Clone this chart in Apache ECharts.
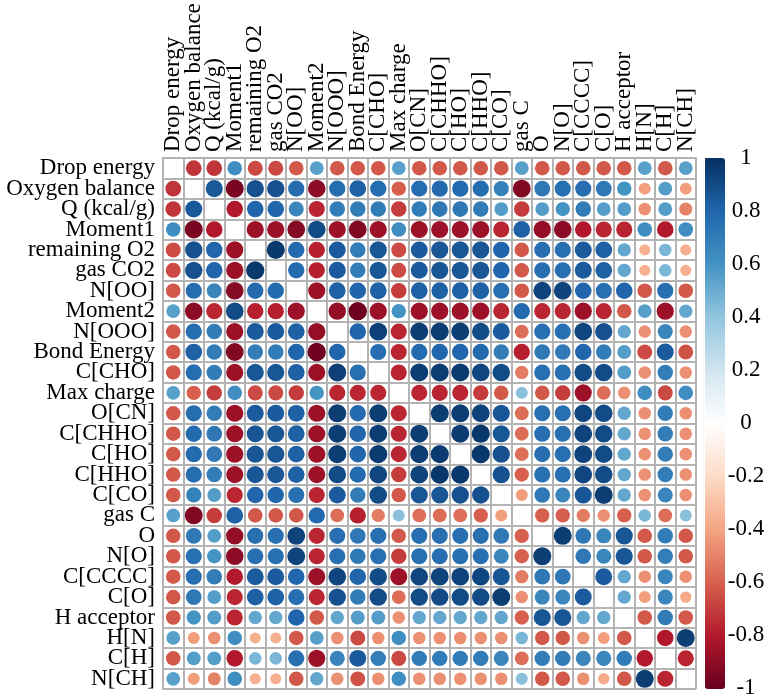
<!DOCTYPE html>
<html><head><meta charset="utf-8">
<script src="https://cdn.jsdelivr.net/npm/echarts@6/dist/echarts.min.js"></script>
<style>html,body{margin:0;padding:0;background:#fff}#c{width:769px;height:699px}</style>
</head><body><div id="c"></div>
<script>
const names = ['Drop energy','Oxygen balance','Q (kcal/g)','Moment1','remaining O2','gas CO2','N[OO]','Moment2','N[OOO]','Bond Energy','C[CHO]','Max charge','O[CN]','C[CHHO]','C[HO]','C[HHO]','C[CO]','gas C','O','N[O]','C[CCCC]','C[O]','H acceptor','H[N]','C[H]','N[CH]'];
// rows of the correlation matrix (null = diagonal, left blank)
const rDropEnergy  = [null,-0.72,-0.72,0.62,-0.66,-0.66,-0.62,0.55,-0.62,-0.62,-0.62,0.55,-0.62,-0.62,-0.62,-0.62,-0.62,0.55,-0.62,-0.62,-0.62,-0.62,-0.62,0.55,-0.62,0.55];
const rOxygen      = [-0.72,null,0.85,-0.95,0.88,0.88,0.77,-0.9,0.77,0.82,0.77,-0.6,0.77,0.78,0.78,0.77,0.68,-0.93,0.72,0.76,0.76,0.72,0.6,-0.42,0.56,-0.42];
const rQ           = [-0.72,0.85,null,-0.8,0.8,0.8,0.66,-0.76,0.7,0.7,0.7,-0.7,0.7,0.72,0.72,0.7,0.56,-0.7,0.56,0.6,0.7,0.56,0.56,-0.46,0.56,-0.5];
const rMoment1     = [0.62,-0.95,-0.8,null,-0.86,-0.86,-0.92,0.9,-0.86,-0.93,-0.86,0.62,-0.86,-0.86,-0.86,-0.86,-0.76,0.82,-0.88,-0.9,-0.8,-0.76,-0.76,0.62,-0.8,0.62];
const rRemO2       = [-0.66,0.88,0.8,-0.86,null,0.97,0.78,-0.78,0.84,0.7,0.86,-0.66,0.84,0.86,0.86,0.86,0.8,-0.62,0.76,0.76,0.84,0.82,0.52,-0.36,0.46,-0.36];
const rGasCO2      = [-0.66,0.88,0.8,-0.86,0.97,null,0.78,-0.78,0.84,0.7,0.86,-0.66,0.84,0.86,0.86,0.86,0.8,-0.62,0.76,0.76,0.84,0.82,0.52,-0.36,0.46,-0.36];
const rNOO         = [-0.62,0.77,0.66,-0.92,0.78,0.78,null,-0.86,0.82,0.8,0.82,-0.7,0.82,0.82,0.82,0.82,0.76,-0.62,0.93,0.93,0.8,0.76,0.8,-0.62,0.76,-0.62];
const rMoment2     = [0.55,-0.9,-0.76,0.9,-0.78,-0.78,-0.86,null,-0.88,-0.98,-0.86,0.6,-0.86,-0.86,-0.86,-0.86,-0.76,0.78,-0.76,-0.76,-0.86,-0.76,-0.62,0.55,-0.86,0.52];
const rNOOO        = [-0.62,0.77,0.7,-0.86,0.84,0.84,0.82,-0.88,null,0.8,0.94,-0.76,0.95,0.95,0.95,0.9,0.84,-0.56,0.76,0.76,0.92,0.88,0.52,-0.46,0.66,-0.46];
const rBond        = [-0.62,0.82,0.7,-0.93,0.7,0.7,0.8,-0.98,0.8,null,0.76,-0.76,0.78,0.8,0.8,0.78,0.7,-0.78,0.72,0.72,0.8,0.7,0.56,-0.66,0.84,-0.64];
const rCCHO        = [-0.62,0.77,0.7,-0.86,0.86,0.86,0.82,-0.86,0.94,0.76,null,-0.76,0.95,0.95,0.96,0.92,0.9,-0.52,0.76,0.76,0.9,0.9,0.56,-0.46,0.7,-0.46];
const rMaxCharge   = [0.55,-0.6,-0.7,0.62,-0.66,-0.66,-0.7,0.6,-0.76,-0.76,-0.76,null,-0.76,-0.76,-0.76,-0.7,-0.62,0.42,-0.62,-0.7,-0.86,-0.56,-0.46,0.62,-0.66,0.62];
const rOCN         = [-0.62,0.77,0.7,-0.86,0.84,0.84,0.82,-0.86,0.95,0.78,0.95,-0.76,null,0.95,0.95,0.93,0.86,-0.56,0.76,0.76,0.92,0.9,0.52,-0.46,0.7,-0.46];
const rCCHHO       = [-0.62,0.78,0.72,-0.86,0.86,0.86,0.82,-0.86,0.95,0.8,0.95,-0.76,0.95,null,0.96,0.97,0.86,-0.56,0.76,0.76,0.93,0.9,0.52,-0.46,0.7,-0.46];
const rCHO         = [-0.62,0.78,0.72,-0.86,0.86,0.86,0.82,-0.86,0.95,0.8,0.96,-0.76,0.95,0.96,null,0.97,0.88,-0.56,0.76,0.76,0.93,0.9,0.52,-0.46,0.7,-0.46];
const rCHHO        = [-0.62,0.77,0.7,-0.86,0.86,0.86,0.82,-0.86,0.9,0.78,0.92,-0.7,0.93,0.97,0.97,null,0.88,-0.6,0.76,0.76,0.92,0.9,0.52,-0.46,0.7,-0.46];
const rCCO         = [-0.62,0.68,0.56,-0.76,0.8,0.8,0.76,-0.76,0.84,0.7,0.9,-0.62,0.86,0.86,0.88,0.88,null,-0.42,0.72,0.66,0.86,0.95,0.52,-0.46,0.66,-0.46];
const rGasC        = [0.55,-0.93,-0.7,0.82,-0.62,-0.62,-0.62,0.78,-0.56,-0.78,-0.52,0.42,-0.56,-0.56,-0.56,-0.6,-0.42,null,-0.6,-0.6,-0.52,-0.46,-0.6,0.46,-0.56,0.42];
const rO           = [-0.62,0.72,0.56,-0.88,0.76,0.76,0.93,-0.76,0.76,0.72,0.76,-0.62,0.76,0.76,0.76,0.76,0.72,-0.6,null,0.95,0.72,0.66,0.86,-0.62,0.7,-0.62];
const rNO          = [-0.62,0.76,0.6,-0.9,0.76,0.76,0.93,-0.76,0.76,0.72,0.76,-0.7,0.76,0.76,0.76,0.76,0.66,-0.6,0.95,null,0.72,0.66,0.86,-0.62,0.7,-0.62];
const rCCCCC       = [-0.62,0.76,0.7,-0.8,0.84,0.84,0.8,-0.86,0.92,0.8,0.9,-0.86,0.92,0.93,0.93,0.92,0.86,-0.52,0.72,0.72,null,0.84,0.52,-0.46,0.66,-0.46];
const rCO          = [-0.62,0.72,0.56,-0.76,0.82,0.82,0.76,-0.76,0.88,0.7,0.9,-0.56,0.9,0.9,0.9,0.9,0.95,-0.46,0.66,0.66,0.84,null,0.52,-0.42,0.66,-0.38];
const rHAcc        = [-0.62,0.6,0.56,-0.76,0.52,0.52,0.8,-0.62,0.52,0.56,0.56,-0.46,0.52,0.52,0.52,0.52,0.52,-0.6,0.86,0.86,0.52,0.52,null,-0.62,0.7,-0.62];
const rHN          = [0.55,-0.42,-0.46,0.62,-0.36,-0.36,-0.62,0.55,-0.46,-0.66,-0.46,0.62,-0.46,-0.46,-0.46,-0.46,-0.46,0.46,-0.62,-0.62,-0.46,-0.42,-0.62,null,-0.8,0.95];
const rCH          = [-0.62,0.56,0.56,-0.8,0.46,0.46,0.76,-0.86,0.66,0.84,0.7,-0.66,0.7,0.7,0.7,0.7,0.66,-0.56,0.7,0.7,0.66,0.66,0.7,-0.8,null,-0.76];
const rNCH         = [0.55,-0.42,-0.5,0.62,-0.36,-0.36,-0.62,0.52,-0.46,-0.64,-0.46,0.62,-0.46,-0.46,-0.46,-0.46,-0.46,0.42,-0.62,-0.62,-0.46,-0.38,-0.62,0.95,-0.76,null];
const rows = [rDropEnergy,rOxygen,rQ,rMoment1,rRemO2,rGasCO2,rNOO,rMoment2,rNOOO,rBond,rCCHO,rMaxCharge,rOCN,rCCHHO,rCHO,rCHHO,rCCO,rGasC,rO,rNO,rCCCCC,rCO,rHAcc,rHN,rCH,rNCH];
const colorbarTicks = [-1,-0.8,-0.6,-0.4,-0.2,0,0.2,0.4,0.6,0.8,1];

const data = [];
rows.forEach((row, i) => row.forEach((v, j) => { if (v !== null) data.push([j, i, v]); }));

const FONT = 'Liberation Serif';
const FS = 23;
const GL = 163, GT = 158, GW = 533, GH = 531;
const chart = echarts.init(document.getElementById('c'), null, {renderer: 'canvas'});
chart.setOption({
  animation: false,
  backgroundColor: '#fff',
  grid: [
    {left: GL, top: GT, width: GW, height: GH},
    {left: 705, top: GT, width: 20, height: GH}
  ],
  xAxis: [
    {type: 'category', data: names, position: 'top', gridIndex: 0,
     axisLine: {show: true, lineStyle: {color: '#b4b4b4', width: 2}}, axisTick: {show: false},
     splitLine: {show: true, interval: 0, lineStyle: {color: '#b4b4b4', width: 2}},
     axisLabel: {rotate: -90, align: 'left', verticalAlign: 'middle', interval: 0, margin: 6,
                 color: '#000', fontFamily: FONT, fontSize: FS, hideOverlap: false}},
    {type: 'value', gridIndex: 1, show: false, min: 0, max: 1}
  ],
  yAxis: [
    {type: 'category', data: names, inverse: true, gridIndex: 0,
     axisLine: {show: true, lineStyle: {color: '#b4b4b4', width: 2}}, axisTick: {show: false},
     splitLine: {show: true, interval: 0, lineStyle: {color: '#b4b4b4', width: 2}},
     axisLabel: {interval: 0, margin: 8, color: '#000', fontFamily: FONT, fontSize: FS, hideOverlap: false}},
    {type: 'value', gridIndex: 1, min: -1, max: 1, interval: 0.2, position: 'right',
     axisLine: {show: false}, splitLine: {show: false},
     axisTick: {show: true, length: 5, lineStyle: {color: '#000'}},
     axisLabel: {margin: 21, align: 'center', color: '#000', fontFamily: FONT, fontSize: FS,
       formatter: v => { const r = Math.round(v*10)/10; return colorbarTicks.some(t => Math.abs(t - r) < 1e-9) ? String(r) : ''; }}}
  ],
  visualMap: {
    type: 'continuous', min: -1, max: 1, dimension: 2, seriesIndex: 0,
    orient: 'vertical', left: 705, top: GT, itemWidth: 20, itemHeight: GH,
    padding: 0, text: null, showLabel: false, calculable: false, hoverLink: false,
    inRange: {color: ['#67001F','#B2182B','#D6604D','#F4A582','#FDDBC7','#FFFFFF','#D1E5F0','#92C5DE','#4393C3','#2166AC','#053061']}
  },
  series: [
    {type: 'scatter', xAxisIndex: 0, yAxisIndex: 0, data: data,
     symbolSize: v => 18.5 * Math.sqrt(Math.abs(v[2])), itemStyle: {opacity: 1}},
    {type: 'scatter', xAxisIndex: 1, yAxisIndex: 1, data: [], silent: true}
  ]
});
</script></body></html>
